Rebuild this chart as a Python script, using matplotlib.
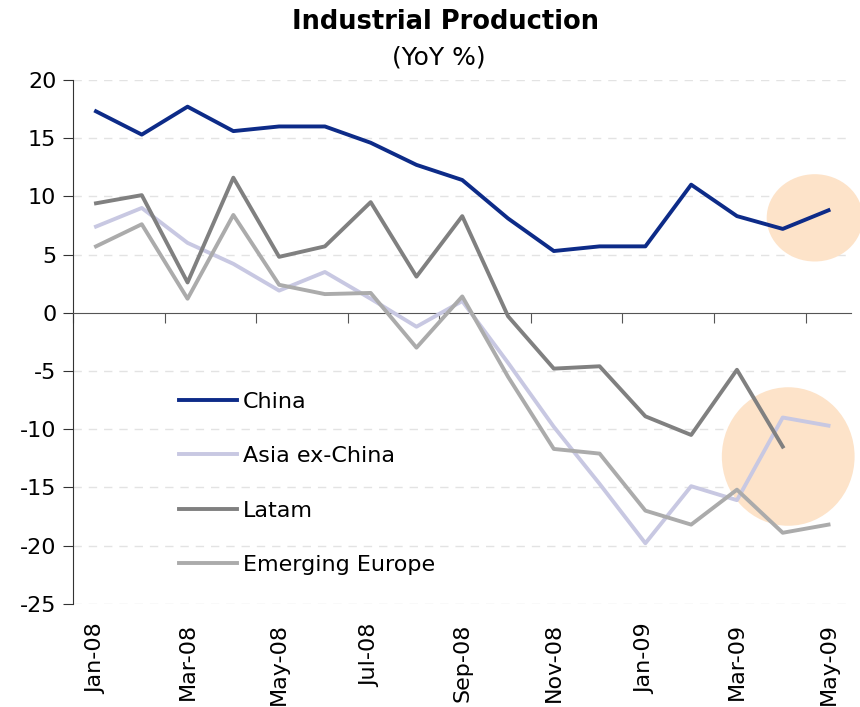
import matplotlib.pyplot as plt
from matplotlib.patches import Ellipse

plt.rcParams['axes.unicode_minus'] = False

# monthly data, Jan-08 .. May-09
months = ['Jan-08', 'Feb-08', 'Mar-08', 'Apr-08', 'May-08', 'Jun-08', 'Jul-08', 'Aug-08',
          'Sep-08', 'Oct-08', 'Nov-08', 'Dec-08', 'Jan-09', 'Feb-09', 'Mar-09', 'Apr-09', 'May-09']
china = [17.3, 15.3, 17.7, 15.6, 16.0, 16.0, 14.6, 12.7, 11.4, 8.1, 5.3, 5.7, 5.7, 11.0, 8.3, 7.2, 8.8]
asia_ex_china = [7.4, 9.0, 6.0, 4.2, 1.9, 3.5, 1.2, -1.2, 1.0, -4.3, -9.8, -14.7, -19.8, -14.9, -16.1, -9.0, -9.7]
latam = [9.4, 10.1, 2.6, 11.6, 4.8, 5.7, 9.5, 3.1, 8.3, -0.3, -4.8, -4.6, -8.9, -10.5, -4.9, -11.5]
em_europe = [5.7, 7.6, 1.2, 8.4, 2.4, 1.6, 1.7, -3.0, 1.4, -5.5, -11.7, -12.1, -17.0, -18.2, -15.2, -18.9, -18.2]

x = list(range(len(months)))

fig = plt.figure(figsize=(8.6, 7.07), dpi=100)
ax = fig.add_axes([0.085, 0.146, 0.905, 0.741])

# highlight circles
peach = '#fde3c9'
ax.add_patch(Ellipse((15.7, 8.15), 2.1, 7.5, facecolor=peach, edgecolor='none', zorder=1, clip_on=False))
ax.add_patch(Ellipse((15.12, -12.35), 2.9, 11.9, facecolor=peach, edgecolor='none', zorder=1, clip_on=False))

lw = 2.8
ax.plot(x, china, color='#0d2b88', lw=lw, label='China', zorder=5)
ax.plot(x, asia_ex_china, color='#c8c8e2', lw=lw, label='Asia ex-China', zorder=3)
ax.plot(x[:len(latam)], latam, color='#808080', lw=lw, label='Latam', zorder=4)
ax.plot(x, em_europe, color='#ababab', lw=lw, label='Emerging Europe', zorder=3)

ax.set_xlim(-0.5, 16.5)
ax.set_ylim(-25, 20)
ax.set_yticks(range(-25, 21, 5))
for v in range(-25, 21, 5):
    if v != 0:
        ax.axhline(v, color='#e3e3e3', lw=1, ls=(0, (6, 5)), zorder=0)

for s in ['top', 'right']:
    ax.spines[s].set_visible(False)
ax.spines['bottom'].set_position(('data', 0))
ax.spines['bottom'].set_color('#555555')
ax.spines['left'].set_color('#333333')
ax.tick_params(axis='y', labelsize=16, length=7, direction='out', color='#333333', pad=5)
ax.set_xticks([i - 0.5 for i in range(0, 17, 2)])
ax.set_xticklabels([])
ax.tick_params(axis='x', length=7, direction='out', color='#555555')

# month labels along the bottom
ax2 = ax.twiny()
ax2.set_xlim(ax.get_xlim())
ax2.xaxis.set_ticks_position('bottom')
ax2.xaxis.set_label_position('bottom')
for s in ax2.spines.values():
    s.set_visible(False)
ax2.set_xticks(x[::2])
ax2.set_xticklabels(months[::2], rotation=90, fontsize=16)
ax2.tick_params(axis='x', length=0, pad=14)

ax.legend(loc='upper left', bbox_to_anchor=(0.111, 0.443), frameon=False, fontsize=16,
          handlelength=2.6, handletextpad=0.25, labelspacing=1.55)

fig.text(0.518, 0.969, 'Industrial Production', ha='center', va='center', fontsize=18.5, fontweight='bold')
fig.text(0.51, 0.918, '(YoY %)', ha='center', va='center', fontsize=18)

fig.savefig('out.png', dpi=100)
